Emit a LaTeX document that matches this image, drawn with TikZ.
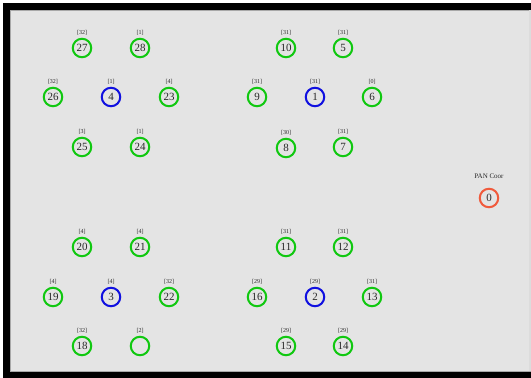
\documentclass[tikz,border=0pt]{standalone}
\usepackage{fontspec}
\setmainfont{Liberation Serif}
\definecolor{bggray}{HTML}{E4E4E4}
\definecolor{edgegray}{HTML}{A8A8A8}
\definecolor{ngreen}{HTML}{10C810}
\definecolor{nblue}{HTML}{1010E0}
\definecolor{nred}{HTML}{F05A3C}
\definecolor{txt}{HTML}{282828}
\tikzset{
  dev/.style={circle, draw=ngreen, line width=2pt, minimum size=18.5pt, inner sep=0pt,
    font=\fontsize{11}{11}\selectfont, text=txt},
  coord/.style={dev, draw=nblue},
  pan/.style={dev, draw=nred},
  tag/.style={font=\fontsize{6}{6}\selectfont, text=txt, inner sep=0pt}
}
\begin{document}
\begin{tikzpicture}[x=1pt,y=-1pt]
\useasboundingbox (0,0) rectangle (531,378);
\fill[white] (0,0) rectangle (531,378);
\fill[black] (3,3) rectangle (531,378);
\fill[bggray] (10,10) rectangle (531,371);
\draw[edgegray, line width=0.6pt] (531,10) -- (10,10) -- (10,371) -- (531,371);
\fill[edgegray!40!white] (529,10.3) rectangle (531,370.7);
% nodes: name, x, y, label, text, style
\foreach \n/\x/\y/\l/\t/\s in {
  n27/82/48/{[32]}/27/dev, n28/140/48/{[1]}/28/dev,
  n26/53/97/{[32]}/26/dev, n4/111/97/{[1]}/4/coord, n23/169/97/{[4]}/23/dev,
  n25/82/147/{[3]}/25/dev, n24/140/147/{[1]}/24/dev,
  n10/286/48/{[31]}/10/dev, n5/343/48/{[31]}/5/dev,
  n9/257/97/{[31]}/9/dev, n1/315/97/{[31]}/1/coord, n6/372/97/{[0]}/6/dev,
  n8/286/148/{[30]}/8/dev, n7/343/147/{[31]}/7/dev,
  n20/82/247/{[4]}/20/dev, n21/140/247/{[4]}/21/dev,
  n19/53/297/{[4]}/19/dev, n3/111/297/{[4]}/3/coord, n22/169/297/{[32]}/22/dev,
  n18/82/346/{[32]}/18/dev, nx/140/346/{[2]}/{}/dev,
  n11/286/247/{[31]}/11/dev, n12/343/247/{[31]}/12/dev,
  n16/257/297/{[29]}/16/dev, n2/315/297/{[29]}/2/coord, n13/372/297/{[31]}/13/dev,
  n15/286/346/{[29]}/15/dev, n14/343/346/{[29]}/14/dev}
{
  \node[\s] (\n) at (\x,\y) {\t};
  \node[tag] (\n l) at (\x,\y-15.5) {\l};
}
\node[pan] (n0) at (489,198) {0};
\node[tag, font=\fontsize{7}{7}\selectfont] (n0l) at (489,176) {PAN Coor};
\end{tikzpicture}
\end{document}
